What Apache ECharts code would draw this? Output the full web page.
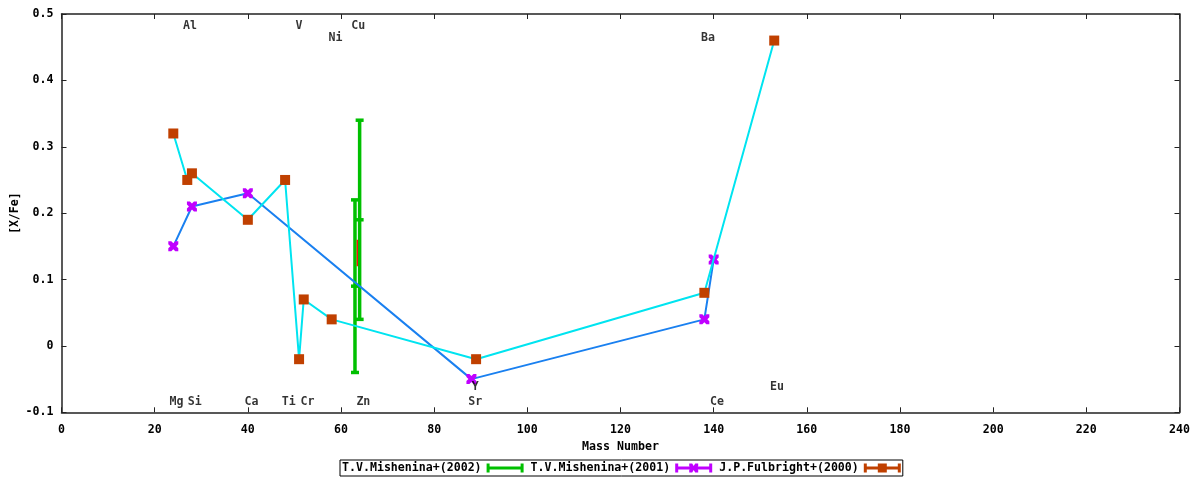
<!DOCTYPE html>
<html><head><meta charset="utf-8">
<script src="https://cdn.jsdelivr.net/npm/echarts@6/dist/echarts.min.js"></script>
<style>html,body{margin:0;padding:0;background:#fff}#c{width:1200px;height:480px}</style>
</head><body><div id="c"></div>
<script>
// ---- data ----
const xTicks = { min: 0, max: 240, interval: 20 };
const yTicks = { min: -0.1, max: 0.5, interval: 0.1 };

const name2002 = 'T.V.Mishenina+(2002)';
const m2002X = [63, 64];
const m2002Y = [0.09, 0.19];
const m2002Lo = [-0.04, 0.04];
const m2002Hi = [0.22, 0.34];

const name2001 = 'T.V.Mishenina+(2001)';
const m2001X = [24, 28, 40, 88, 138, 140];
const m2001Y = [0.15, 0.21, 0.23, -0.05, 0.04, 0.13];

const name2000 = 'J.P.Fulbright+(2000)';
const f2000X = [24, 27, 28, 40, 48, 51, 52, 58, 89, 138, 153];
const f2000Y = [0.32, 0.25, 0.26, 0.19, 0.25, -0.02, 0.07, 0.04, -0.02, 0.08, 0.46];

const extraX = [63.5];
const extraY = [0.14];
const extraLo = [0.12];
const extraHi = [0.16];

const elemNames = ['Al', 'V', 'Cu', 'Ni', 'Ba', 'Mg', 'Si', 'Ca', 'Ti', 'Cr', 'Zn', 'Sr', 'Ce', 'Y', 'Eu'];
const elemX = [27.6, 51.0, 63.7, 58.8, 138.8, 24.7, 28.6, 40.8, 48.8, 52.8, 64.8, 88.8, 140.7, 88.8, 153.6];
const elemY = [0.482, 0.482, 0.482, 0.464, 0.464, -0.085, -0.085, -0.085, -0.085, -0.085, -0.085, -0.085, -0.085, -0.062, -0.062];

// ---- helpers ----
const FONT = 'DejaVu Sans Mono';
const txt = { fontFamily: FONT, fontSize: 11.6, fontWeight: 'bold', color: '#000' };

function zip(...arrs) { return arrs[0].map((_, i) => arrs.map(a => a[i])); }

function errorBars(color, lw, capHalf, centerTick) {
  return function (params, api) {
    const x = api.value(0), y = api.value(1), lo = api.value(2), hi = api.value(3);
    const pL = api.coord([x, lo]), pH = api.coord([x, hi]), pC = api.coord([x, y]);
    const st = { stroke: color, lineWidth: lw };
    const ch = [{ type: 'line', shape: { x1: pL[0], y1: pL[1], x2: pH[0], y2: pH[1] }, style: st }];
    if (capHalf > 0) {
      ch.push({ type: 'line', shape: { x1: pL[0] - capHalf, y1: pL[1], x2: pL[0] + capHalf, y2: pL[1] }, style: st });
      ch.push({ type: 'line', shape: { x1: pH[0] - capHalf, y1: pH[1], x2: pH[0] + capHalf, y2: pH[1] }, style: st });
    }
    if (centerTick) {
      ch.push({ type: 'line', shape: { x1: pC[0] - capHalf, y1: pC[1], x2: pC[0] + capHalf, y2: pC[1] }, style: st });
    }
    return { type: 'group', children: ch };
  };
}

const xSym = 'path://M0,0H3L5,2L7,0H10V3L8,5L10,7V10H7L5,8L3,10H0V7L2,5L0,3Z';
const iconBar = 'M0,0H3V3H34V0H37V9H34V6H3V9H0Z';
const iconX = 'M14,0H17L18.5,2.5L20,0H23V2.5L21,4.5L23,6.5V9H20L18.5,6.5L17,9H14V6.5L16,4.5L14,2.5Z';
const iconSq = 'M14,0H23V9H14Z';

const axisLine = { show: true, onZero: false, lineStyle: { color: '#222', width: 1.5 } };
const axisTick = { show: true, inside: true, length: 5, lineStyle: { color: '#222', width: 1 } };

const chart = echarts.init(document.getElementById('c'));
chart.setOption({
  animation: false,
  backgroundColor: '#fff',
  grid: { left: 61.5, right: 20.5, top: 14, bottom: 67.7, containLabel: false, outerBoundsMode: 'none' },
  legend: {
    top: 460, left: 340,
    align: 'right',
    orient: 'horizontal',
    itemWidth: 37, itemHeight: 9, itemGap: 7,
    padding: [2, 2, 2, 2],
    borderColor: '#000', borderWidth: 1, borderRadius: 0,
    textStyle: Object.assign({}, txt, { padding: [0, 0, 0, 0] }),
    data: [
      { name: name2002, icon: 'path://' + iconBar, itemStyle: { color: '#00c000' } },
      { name: name2001, icon: 'path://' + iconBar + iconX, itemStyle: { color: '#c000ff' } },
      { name: name2000, icon: 'path://' + iconBar + iconSq, itemStyle: { color: '#c04000' } }
    ]
  },
  xAxis: [{
    type: 'value', min: xTicks.min, max: xTicks.max, interval: xTicks.interval,
    position: 'bottom',
    name: 'Mass Number', nameLocation: 'middle', nameGap: 29, nameTextStyle: txt,
    nameMoveOverlap: false,
    axisLine, axisTick, splitLine: { show: false },
    axisLabel: Object.assign({ margin: 12 }, txt)
  }, {
    type: 'value', min: xTicks.min, max: xTicks.max, interval: xTicks.interval,
    position: 'top', axisLine, axisTick, splitLine: { show: false }, axisLabel: { show: false }
  }],
  yAxis: [{
    type: 'value', min: yTicks.min, max: yTicks.max, interval: yTicks.interval,
    position: 'left',
    name: '[X/Fe]', nameLocation: 'middle', nameGap: 41, nameRotate: 90, nameTextStyle: txt,
    nameMoveOverlap: false,
    axisLine, axisTick, splitLine: { show: false },
    axisLabel: Object.assign({ margin: 8, formatter: v => String(+v.toFixed(1)) }, txt)
  }, {
    type: 'value', min: yTicks.min, max: yTicks.max, interval: yTicks.interval,
    position: 'right', axisLine, axisTick, splitLine: { show: false }, axisLabel: { show: false }
  }],
  series: [
    {
      name: name2002, type: 'custom', xAxisIndex: 0, yAxisIndex: 0,
      itemStyle: { color: '#00c000' },
      renderItem: errorBars('#00c000', 3.5, 4, true),
      encode: { x: 0, y: 1 },
      data: zip(m2002X, m2002Y, m2002Lo, m2002Hi), z: 2
    },
    {
      name: name2001, type: 'line', xAxisIndex: 0, yAxisIndex: 0,
      data: zip(m2001X, m2001Y),
      symbol: xSym, symbolSize: 10, showAllSymbol: true,
      lineStyle: { color: '#1a80f0', width: 2 },
      itemStyle: { color: '#c000ff' }, z: 3
    },
    {
      name: name2000, type: 'line', xAxisIndex: 0, yAxisIndex: 0,
      data: zip(f2000X, f2000Y),
      symbol: 'rect', symbolSize: 10, showAllSymbol: true,
      lineStyle: { color: '#00e4f0', width: 2 },
      itemStyle: { color: '#c04000' }, z: 4
    },
    {
      name: 'extra', type: 'custom', xAxisIndex: 0, yAxisIndex: 0,
      renderItem: errorBars('#ff0000', 1.3, 0, false),
      encode: { x: 0, y: 1 },
      data: zip(extraX, extraY, extraLo, extraHi), z: 5
    },
    {
      name: 'labels', type: 'scatter', xAxisIndex: 0, yAxisIndex: 0,
      data: zip(elemX, elemY, elemNames),
      symbolSize: 0, silent: true,
      label: Object.assign({ show: true, position: 'inside', formatter: p => p.value[2] }, txt),
      z: 6
    },
    { type: 'line', xAxisIndex: 1, yAxisIndex: 1, data: [], silent: true }
  ]
});
</script>
</body></html>
